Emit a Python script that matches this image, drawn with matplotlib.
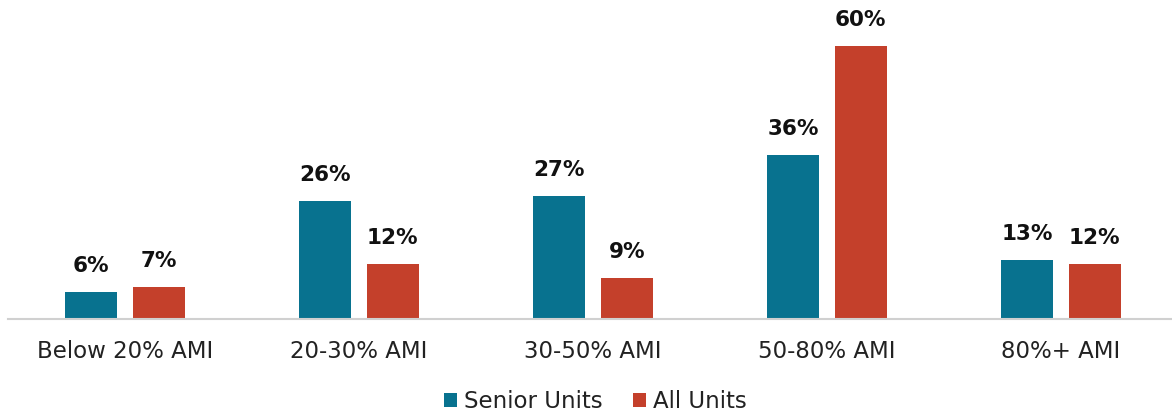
import matplotlib
matplotlib.use('Agg')
import matplotlib.pyplot as plt
import numpy as np

categories = ['Below 20% AMI', '20-30% AMI', '30-50% AMI', '50-80% AMI', '80%+ AMI']
senior_units = [6, 26, 27, 36, 13]
all_units = [7, 12, 9, 60, 12]

teal = '#08728F'
red = '#C4402B'

plt.rcParams['font.family'] = ['DejaVu Sans']

fig = plt.figure(figsize=(11.72, 4.15), dpi=100)
ax = fig.add_axes([8 / 1172, 96 / 415, 1170 / 1172, 319 / 415])

x = np.arange(len(categories))
w = 0.223
off = 0.144
b1 = ax.bar(x - off, senior_units, w, color=teal, label='Senior Units')
b2 = ax.bar(x + off, all_units, w, color=red, label='All Units')

for bars, vals in ((b1, senior_units), (b2, all_units)):
    for b, v in zip(bars, vals):
        ax.text(b.get_x() + b.get_width() / 2, v + 3.5, f'{v}%', ha='center', va='bottom',
                fontsize=15.5, fontweight='bold', color='#111111')

ax.set_xlim(-0.5, 4.5)
ax.set_ylim(0, 70.1)
ax.set_yticks([])
ax.set_xticks(x)
ax.set_xticklabels(categories, fontsize=16.5, color='#222222')
ax.tick_params(axis='x', length=0, pad=15)
for s in ('top', 'right', 'left'):
    ax.spines[s].set_visible(False)
ax.spines['bottom'].set_color('#d0d0d0')
ax.spines['bottom'].set_linewidth(1.5)

fig.legend(handles=[b1, b2], loc='lower center', bbox_to_anchor=(0.508, -0.045), ncol=2,
           frameon=False, fontsize=16.5, handlelength=0.6, handleheight=0.6,
           handletextpad=0.3, columnspacing=1.3, labelcolor='#222222')

fig.savefig('out.png', dpi=100)
